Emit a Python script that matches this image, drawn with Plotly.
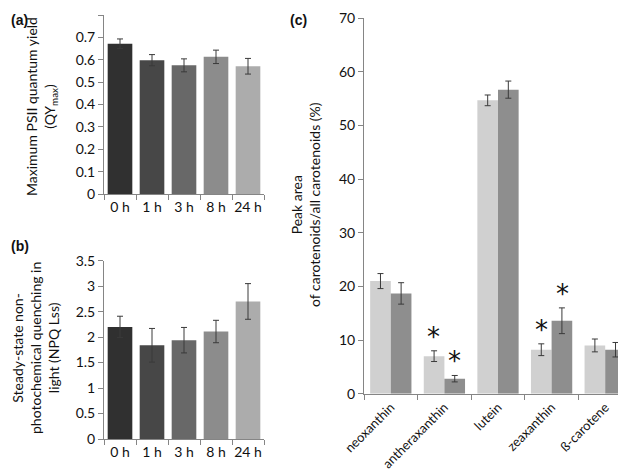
import plotly.graph_objects as go

# ---- data ----
times = ["0 h", "1 h", "3 h", "8 h", "24 h"]
qy_max = [0.672, 0.598, 0.575, 0.613, 0.571]
qy_err = [0.021, 0.025, 0.029, 0.030, 0.035]
npq = [2.20, 1.84, 1.94, 2.11, 2.70]
npq_err = [0.21, 0.33, 0.25, 0.22, 0.35]
time_colors = ["#303030", "#474747", "#686868", "#8c8c8c", "#acacac"]

pigments = ["neoxanthin", "antheraxanthin", "lutein", "zeaxanthin", "ß-carotene"]
series1 = [21.0, 7.0, 54.7, 8.2, 9.0]
series1_err = [1.4, 1.0, 1.0, 1.1, 1.2]
series2 = [18.7, 2.8, 56.7, 13.6, 8.2]
series2_err = [2.0, 0.6, 1.6, 2.4, 1.35]
sig1 = [False, True, False, True, False]
sig2 = [False, True, False, True, False]
color1 = "#d0d0d0"
color2 = "#8e8e8e"

FONT = "Lato, 'Open Sans', sans-serif"
AX = "#858585"
W, H = 626, 474

def px_x(x):
    return x / W

def px_y(y):
    return 1 - y / H

fig = go.Figure()

err_style = dict(type="data", color="#3a3a3a", thickness=1, width=3)

fig.add_trace(go.Bar(x=times, y=qy_max, marker=dict(color=time_colors, line=dict(width=0)),
                     error_y=dict(array=qy_err, **err_style), xaxis="x", yaxis="y", showlegend=False))
fig.add_trace(go.Bar(x=times, y=npq, marker=dict(color=time_colors, line=dict(width=0)),
                     error_y=dict(array=npq_err, **err_style), xaxis="x2", yaxis="y2", showlegend=False))
fig.add_trace(go.Bar(x=pigments, y=series1, marker=dict(color=color1, line=dict(width=0)),
                     error_y=dict(array=series1_err, **err_style), xaxis="x3", yaxis="y3", showlegend=False))
fig.add_trace(go.Bar(x=pigments, y=series2, marker=dict(color=color2, line=dict(width=0)),
                     error_y=dict(array=series2_err, **err_style), xaxis="x3", yaxis="y3", showlegend=False))

axis_common = dict(showline=True, linecolor=AX, linewidth=1, ticks="outside", ticklen=5,
                   tickcolor=AX, tickwidth=1, showgrid=False, zeroline=False, automargin=False,
                   tickfont=dict(size=14, color="#111", family=FONT))

xa = dict(domain=[px_x(96), px_x(256)], tickson="boundaries", tickangle=0, **axis_common)
x3_common = dict(axis_common)
x3_common["tickfont"] = dict(size=13, color="#111", family=FONT)
fig.update_layout(
    xaxis=dict(anchor="y", **xa),
    yaxis=dict(anchor="x", domain=[px_y(186), px_y(7)], range=[0, 0.8], dtick=0.1, **axis_common),
    xaxis2=dict(anchor="y2", **xa),
    yaxis2=dict(anchor="x2", domain=[px_y(431), px_y(252.7)], range=[0, 3.5], dtick=0.5, **axis_common),
    xaxis3=dict(anchor="y3", domain=[px_x(356), px_x(624)], tickson="boundaries", tickangle=-45,
                categoryorder="array", categoryarray=pigments, **x3_common),
    yaxis3=dict(anchor="x3", domain=[px_y(385.7), px_y(10.3)], range=[0, 70], dtick=10, **axis_common),
    bargap=0.23,
    barmode="group",
    width=W, height=H,
    autosize=False,
    margin=dict(l=0, r=0, t=0, b=0, pad=0, autoexpand=False),
    plot_bgcolor="white", paper_bgcolor="white",
    font=dict(family=FONT, size=14, color="#111"),
)

annotations = []
# panel labels
for txt, x, y in [("(a)", 1, 12), ("(b)", 1, 238), ("(c)", 280, 12)]:
    annotations.append(dict(text=f"<b>{txt}</b>", x=px_x(x), y=px_y(y), xref="paper", yref="paper",
                            xanchor="left", yanchor="middle", showarrow=False,
                            font=dict(family="Liberation Sans, Arial", size=14, color="#111")))
# axis titles
title_font = dict(size=14, family=FONT, color="#111")
for txt, cx, cy in [
    ("Maximum PSII quantum yield<br>(QY<sub>max</sub>)", 33, 99),
    ("Steady-state non-<br>photochemical quenching in<br>light (NPQ Lss)", 27, 340),
    ("Peak area<br>of carotenoids/all carotenoids (%)", 298, 197),
]:
    annotations.append(dict(text=txt, x=px_x(cx), y=px_y(cy), xref="paper", yref="paper",
                            xanchor="center", yanchor="middle", textangle=-90, showarrow=False,
                            font=title_font, align="center"))
# significance asterisks
for i, p in enumerate(pigments):
    for vals, errs, sig, shift in [(series1, series1_err, sig1, -10.5), (series2, series2_err, sig2, 10.5)]:
        if sig[i]:
            annotations.append(dict(text="*", x=p, y=vals[i] + errs[i], xref="x3", yref="y3",
                                    xshift=shift, yshift=-3, xanchor="center", yanchor="bottom",
                                    showarrow=False,
                                    font=dict(size=26, family="DejaVu Sans", color="#111")))
fig.update_layout(annotations=annotations)

fig.write_html("out.html")
